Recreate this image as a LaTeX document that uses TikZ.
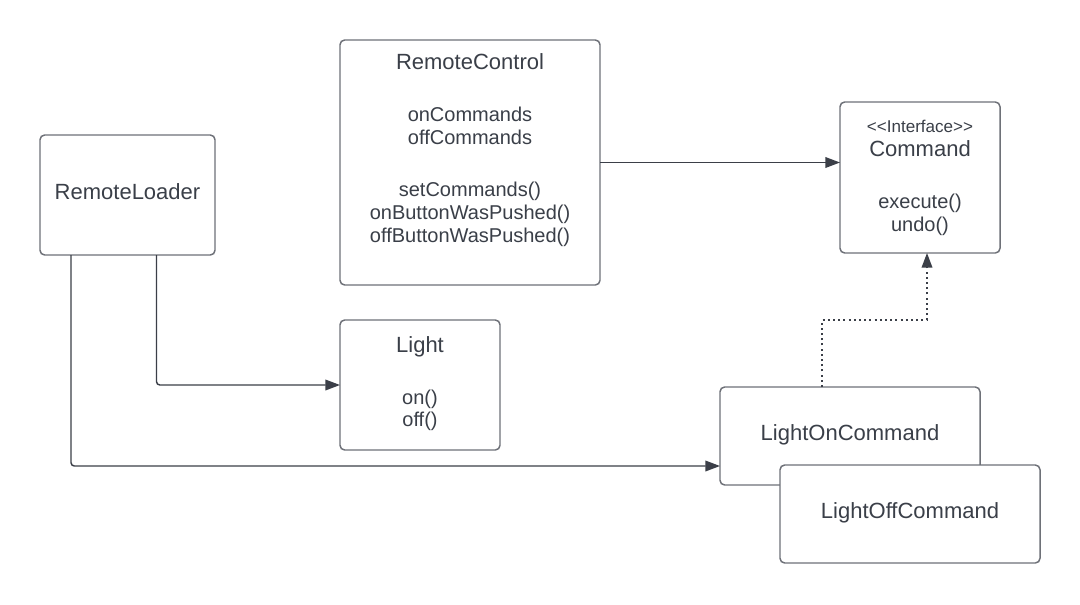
\documentclass[tikz,border=0pt]{standalone}
\usepackage{fontspec}
\setmainfont{Liberation Sans}
\usetikzlibrary{arrows.meta}
\definecolor{txt}{HTML}{3A3F48}
\definecolor{bord}{HTML}{6E7178}
\definecolor{conn}{HTML}{3B3F48}
\begin{document}
\begin{tikzpicture}[x=0.75pt,y=-0.75pt,
  box/.style={draw=bord, line width=1.1pt, fill=white, rounded corners=3.5pt, inner sep=0pt, outer sep=0pt},
  title/.style={text=txt, font=\fontsize{16.5}{19}\selectfont, anchor=base, inner sep=0pt},
  body/.style={text=txt, font=\fontsize{15}{17.5}\selectfont, anchor=base, inner sep=0pt},
  small/.style={text=txt, font=\fontsize{12.8}{15}\selectfont, anchor=base, inner sep=0pt},
  link/.style={draw=conn, line width=1.1pt, rounded corners=2.5pt, -{Triangle[length=11pt,width=8pt]}},
  realize/.style={draw=conn, line width=1.1pt, dash pattern=on 1.5pt off 2.4pt, -{Triangle[length=11pt,width=8pt]}}]
\useasboundingbox[fill=white] (0,0) rectangle (1080,604);

% boxes
\node[box, minimum width={175*0.75pt}, minimum height={120*0.75pt}] (RL) at (127.5,195) {};
\node[box, minimum width={260*0.75pt}, minimum height={245*0.75pt}] (RC) at (470,162.5) {};
\node[box, minimum width={160*0.75pt}, minimum height={151*0.75pt}] (CMD) at (920,177.5) {};
\node[box, minimum width={160*0.75pt}, minimum height={130*0.75pt}] (LT) at (420,385) {};
\node[box, minimum width={260*0.75pt}, minimum height={98*0.75pt}] (LON) at (850,436) {};
\node[box, minimum width={260*0.75pt}, minimum height={98*0.75pt}] (LOFF) at (910,514) {};

% texts
\node[title] (rlT) at (127.5,199.3) {RemoteLoader};
\node[title] (rcT) at (470,69.3) {RemoteControl};
\node[body] (rc1) at (470,121) {onCommands};
\node[body] (rc2) at (470,144.3) {offCommands};
\node[body] (rc3) at (470,196) {setCommands()};
\node[body] (rc4) at (470,219.3) {onButtonWasPushed()};
\node[body] (rc5) at (470,242.7) {offButtonWasPushed()};
\node[small] (cmdS) at (920,132.7) {{<}{<}Interface{>}{>}};
\node[title] (cmdT) at (920,156.7) {Command};
\node[body] (cmd1) at (920,208.7) {execute()};
\node[body] (cmd2) at (920,231.7) {undo()};
\node[title] (ltT) at (420,352.7) {Light};
\node[body] (lt1) at (420,404) {on()};
\node[body] (lt2) at (420,426.7) {off()};
\node[title] (lonT) at (850,440) {LightOnCommand};
\node[title] (loffT) at (910,518.3) {LightOffCommand};

% connectors
\draw[link] (RC.east) -- (RC.east -| CMD.west);
\draw[link] ([xshift={29*0.75pt}]RL.south) |- (LT.west);
\draw[link] ([xshift={-56.5*0.75pt}]RL.south) |- ([yshift={-30*0.75pt}]LON.west);
\coordinate (dm) at (874,320);
\draw[realize] ([xshift={-28*0.75pt}]LON.north) |- (dm) -| ([xshift={7*0.75pt}]CMD.south);
\end{tikzpicture}
\end{document}
